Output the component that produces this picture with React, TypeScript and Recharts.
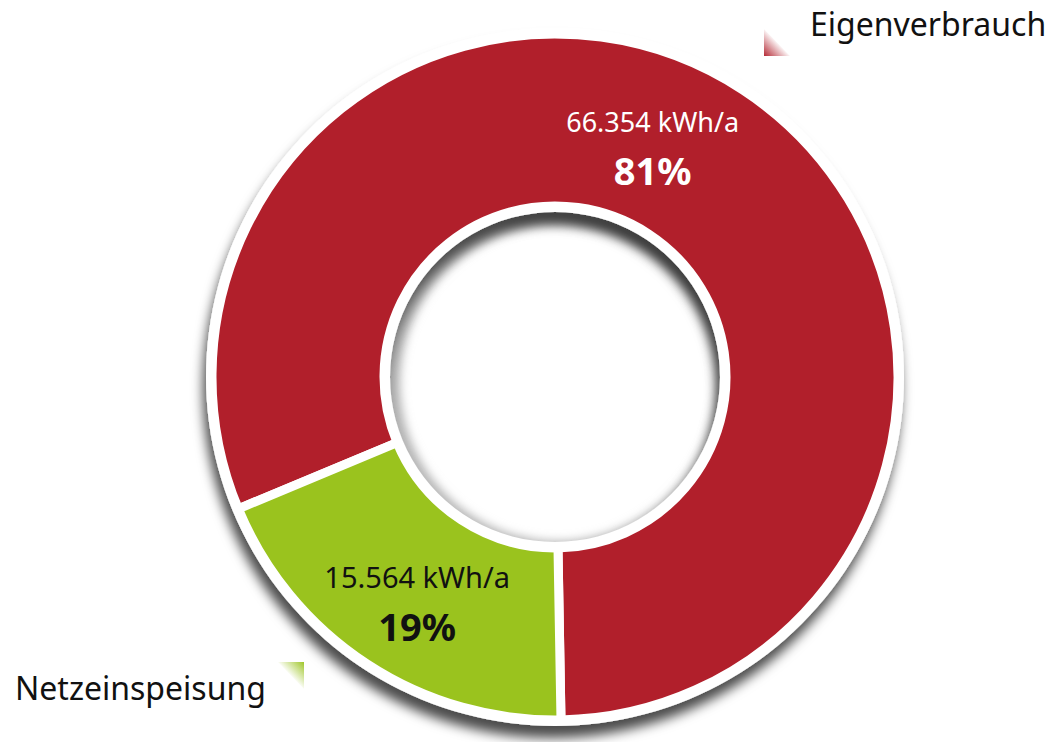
import React from 'react';
import { PieChart, Pie, Cell } from 'recharts';

const categories = ['Eigenverbrauch', 'Netzeinspeisung'];
const energy = [66354, 15564];
const percentLabels = ['81%', '19%'];
const colors = ['#B11F2B', '#9AC31E'];
const labelColors = ['#ffffff', '#111111'];

const data = categories.map((name, i) => ({ name, value: energy[i] }));

const FONT = '"Noto Sans", "Open Sans", sans-serif';
const W = 1063;
const H = 742;
const CX = 555;
const CY = 377;

// small nudges so the text blocks sit where the original puts them
const labelAngleShift = [10, 2];
const labelRadius = [248, 266];
const valueSize = [27, 29];

const fmt = (v: number) => v.toLocaleString('de-DE') + ' kWh/a';

const RADIAN = Math.PI / 180;

const renderLabel = (props: any) => {
  const { cx, cy, midAngle, index } = props;
  const a = (midAngle + labelAngleShift[index]) * RADIAN;
  const r = labelRadius[index];
  const x = cx + r * Math.cos(-a);
  const y = cy + r * Math.sin(-a);
  return (
    <g>
      <text x={x} y={y - 17} textAnchor="middle" fill={labelColors[index]} fontFamily={FONT} fontSize={valueSize[index]}>
        {fmt(energy[index])}
      </text>
      <text x={x} y={y + 36} textAnchor="middle" fill={labelColors[index]} fontFamily={FONT} fontSize={38} fontWeight={700}>
        {percentLabels[index]}
      </text>
    </g>
  );
};

const LegendMark: React.FC<{ color: string; flip?: boolean; id: string }> = ({ color, flip, id }) => (
  <svg width={26} height={27} style={{ display: 'block' }}>
    <defs>
      <linearGradient id={id} x1={flip ? '1' : '0'} y1={flip ? '0' : '1'} x2="0.5" y2="0.5">
        <stop offset="0%" stopColor={color} stopOpacity={0.95} />
        <stop offset="100%" stopColor={color} stopOpacity={0.05} />
      </linearGradient>
    </defs>
    {flip ? (
      <polygon points="26,0 26,27 0,0" fill={`url(#${id})`} />
    ) : (
      <polygon points="0,0 0,27 26,27" fill={`url(#${id})`} />
    )}
  </svg>
);

export default function App() {
  return (
    <div style={{ position: 'absolute', left: 0, top: 0, width: W, height: H, background: '#fff', overflow: 'hidden' }}>
      <PieChart width={W} height={H} margin={{ top: 0, right: 0, bottom: 0, left: 0 }}>
        <defs>
          <filter id="ringShadow" x="-20%" y="-20%" width="140%" height="140%">
            <feDropShadow dx={-3} dy={12} stdDeviation={6} floodColor="#000" floodOpacity={0.7} />
          </filter>
          <filter id="holeShadow" x="-20%" y="-20%" width="140%" height="140%">
            <feOffset dx={3} dy={6} />
            <feGaussianBlur stdDeviation={5} />
          </filter>
        </defs>
        <Pie
          data={[{ name: 'hole', value: 1 }]}
          dataKey="value"
          cx={CX}
          cy={CY}
          innerRadius={158}
          outerRadius={170}
          stroke="none"
          isAnimationActive={false}
        >
          <Cell fill="#b5b5b5" filter="url(#holeShadow)" />
        </Pie>
        <Pie
          data={[{ name: 'ring', value: 1 }]}
          dataKey="value"
          cx={CX}
          cy={CY}
          innerRadius={165}
          outerRadius={349}
          stroke="none"
          isAnimationActive={false}
        >
          <Cell fill="#ffffff" filter="url(#ringShadow)" />
        </Pie>
        <Pie
          data={data}
          dataKey="value"
          nameKey="name"
          cx={CX}
          cy={CY}
          startAngle={271}
          endAngle={631}
          innerRadius={171}
          outerRadius={343}
          stroke="#ffffff"
          strokeWidth={9}
          label={renderLabel}
          labelLine={false}
          isAnimationActive={false}
        >
          {data.map((d, i) => (
            <Cell key={d.name} fill={colors[i]} stroke="#ffffff" strokeWidth={9} />
          ))}
        </Pie>
      </PieChart>
      <div style={{ position: 'absolute', left: 764, top: 4, display: 'flex', alignItems: 'flex-end', gap: 20 }}>
        <div style={{ marginTop: 23 }}>
          <LegendMark color={colors[0]} id="lg0" />
        </div>
        <div style={{ fontFamily: FONT, fontSize: 32, color: '#111', lineHeight: '40px', marginBottom: 12 }}>{categories[0]}</div>
      </div>
      <div style={{ position: 'absolute', left: 15, top: 662, display: 'flex', alignItems: 'flex-start' }}>
        <div style={{ fontFamily: FONT, fontSize: 32, color: '#111', lineHeight: '40px', marginTop: 6, width: 263 }}>{categories[1]}</div>
        <LegendMark color={colors[1]} flip id="lg1" />
      </div>
    </div>
  );
}
